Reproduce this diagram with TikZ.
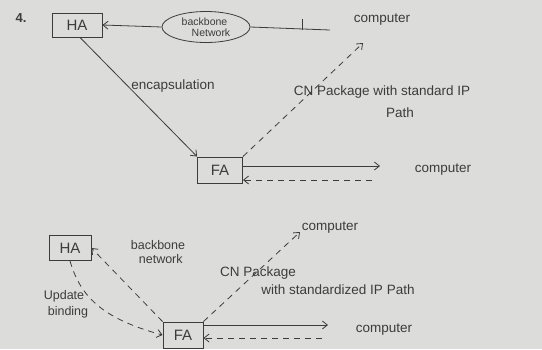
\documentclass[tikz,border=0pt]{standalone}
\usepackage{fontspec}
\setmainfont{Liberation Sans}
\usetikzlibrary{arrows.meta,shapes.geometric}
\definecolor{paper}{HTML}{DCDCDA}
\definecolor{pencil}{HTML}{3C3C3C}
\begin{document}
\begin{tikzpicture}[x=1pt,y=-1pt,
  every node/.style={text=pencil},
  lbl/.style={font=\fontsize{13.5}{15}\selectfont, inner sep=1pt},
  slbl/.style={font=\fontsize{10.5}{11}\selectfont, inner sep=0pt, align=left},
  mlbl/.style={font=\fontsize{12.5}{13}\selectfont, inner sep=1pt, align=left},
  agent/.style={draw=pencil, line width=0.9pt, font=\fontsize{15}{17}\selectfont, inner sep=0pt},
  conn/.style={draw=pencil, line width=0.8pt},
  arr/.style={conn, -{Straight Barb[length=5pt,width=8pt]}},
  darr/.style={arr, dash pattern=on 6pt off 5pt},
  dline/.style={conn, dash pattern=on 6pt off 5pt}]
\fill[paper] (0,0) rectangle (542,349);
\useasboundingbox (0,0) rectangle (542,349);

\node[font=\bfseries\fontsize{13}{15}\selectfont] (num) at (21,18) {4.};

% --- top part
\node[agent, minimum width=50pt, minimum height=24pt] (ha1) at (77,25) {HA};
\node[ellipse, draw=pencil, line width=0.8pt, minimum width=88pt, minimum height=31pt, inner sep=0pt, slbl] (bn1) at (206,27) {backbone\\[0pt]\hspace*{10pt}Network};
\coordinate (lnend) at (330,30);
\coordinate (tick) at (302,30);
\coordinate (ticktop) at (302,19);
\draw[arr] (bn1.west) -- (ha1.east);
\draw[conn] (bn1.east) -- (lnend);
\draw[conn] (tick) -- (ticktop);
\node[lbl] (comp1) at (382,20) {computer};

\node[agent, minimum width=45pt, minimum height=26pt] (fa1) at (220,170) {FA};
\draw[arr] (ha1.south) ++(3,0) -- (fa1.north west);
\node[lbl] (encap) at (173,86) {encapsulation};

\coordinate (cnend1) at (363,43);
\draw[darr] (fa1.north east) -- (cnend1);
\node[lbl] (cn1) at (382,92) {CN Package with standard IP};
\node[lbl] (path1) at (400,113) {Path};

\coordinate (out1) at (380,166);
\coordinate (in1) at (372,180);
\draw[arr] (fa1.east |- out1) -- (out1);
\draw[darr] (in1) -- (fa1.east |- in1);
\node[lbl] (comp2) at (443,170) {computer};

% --- bottom part
\node[agent, minimum width=42pt, minimum height=25pt] (ha2) at (70,248) {HA};
\node[mlbl] (bn2) at (158,252) {backbone\\[1pt]\hspace*{8pt}network};
\node[mlbl] (upd) at (66,304) {Update\\[3pt]\hspace*{4pt}binding};

\node[agent, minimum width=40pt, minimum height=26pt] (fa2) at (183,335) {FA};
\draw[darr] (fa2.north west) -- (ha2.east);
\draw[darr] (ha2.south) .. controls (80,295) and (100,318) .. (fa2.west);

\coordinate (cnend2) at (300,232);
\draw[darr] (fa2.north east) -- (cnend2);
\node[lbl] (comp3) at (330,228) {computer};
\node[lbl] (cn2) at (258,273) {CN Package};
\node[lbl] (cn2b) at (338,290) {with standardized IP Path};

\coordinate (out2) at (328,325);
\coordinate (in2) at (322,338);
\draw[arr] (fa2.east |- out2) -- (out2);
\draw[darr] (in2) -- (fa2.east |- in2);
\node[lbl] (comp4) at (384,330) {computer};
\end{tikzpicture}
\end{document}
